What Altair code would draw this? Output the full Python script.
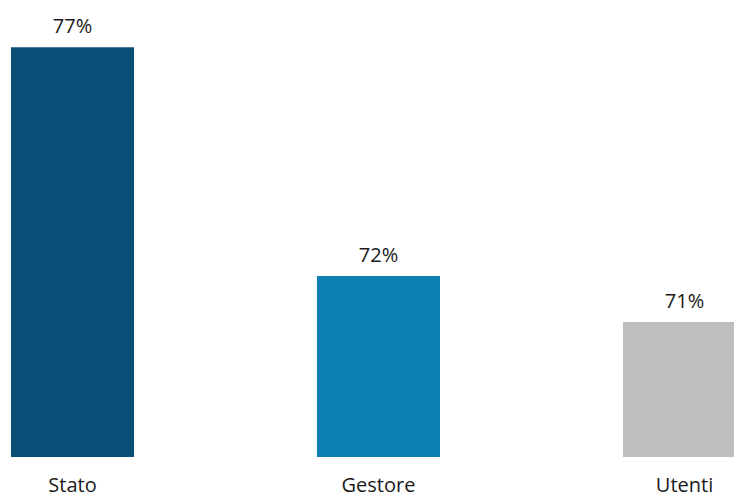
import altair as alt
import pandas as pd

categories = ["Stato", "Gestore", "Utenti"]
values = [77, 72, 71]
labels = ["77%", "72%", "71%"]
colors = ["#0b4f78", "#0e7fb3", "#bdbec0"]

df = pd.DataFrame({"cat": categories, "val": values, "lab": labels})

x = alt.X("cat:N", sort=categories,
          scale=alt.Scale(range=[11, 746], paddingInner=0.598, paddingOuter=0),
          axis=alt.Axis(title=None, domain=False, ticks=False, grid=False, labelAngle=0,
                        labelFont="Open Sans", labelFontSize=20, labelColor="#1a1a1a",
                        labelBaseline="alphabetic", labelPadding=34))
y = alt.Y("val:Q", scale=alt.Scale(domain=[68.05, 78.03], zero=False, nice=False), axis=None)

bars = alt.Chart(df).mark_bar(clip=True).encode(
    x=x, y=y,
    color=alt.Color("cat:N", scale=alt.Scale(domain=categories, range=colors), legend=None),
)
text = alt.Chart(df).mark_text(font="Open Sans", fontSize=20, color="#1a1a1a",
                                baseline="alphabetic", dy=-14).encode(
    x=alt.X("cat:N", sort=categories), y="val:Q", text="lab:N")

chart = alt.layer(bars, text).properties(
    width=734, height=457, autosize=alt.AutoSizeParams(type="none"),
    padding={"left": 0, "top": 0, "right": 0, "bottom": 39}
).configure_view(stroke=None)

chart.save("out.html", embed_options={"renderer": "svg", "actions": False})
